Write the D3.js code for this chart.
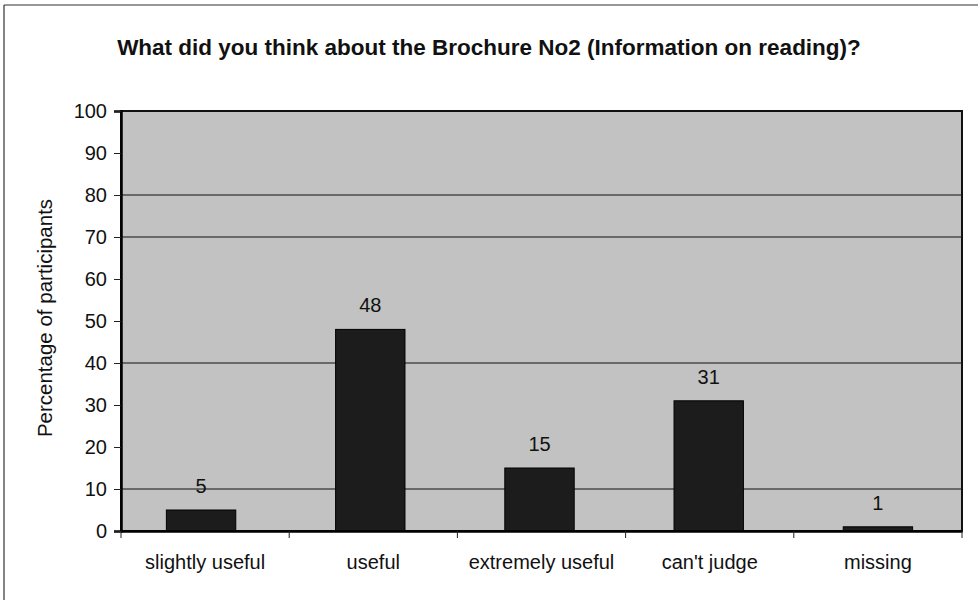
<!DOCTYPE html>
<html>
<head>
<meta charset="utf-8">
<script src="https://cdn.jsdelivr.net/npm/d3@7"></script>
<style>
html,body{margin:0;padding:0;background:#fff;}
svg{display:block;font-family:"Liberation Sans",Arial,sans-serif;}
</style>
</head>
<body>
<svg id="chart" width="978" height="600"></svg>
<script>
const title = "What did you think about the Brochure No2 (Information on reading)?";
const yTitle = "Percentage of participants";
const categories = ["slightly useful", "useful", "extremely useful", "can't judge", "missing"];
const values = [5, 48, 15, 31, 1];
const yTicks = [0, 10, 20, 30, 40, 50, 60, 70, 80, 90, 100];
const visibleGridlines = [10, 40, 70, 80];

const svg = d3.select("#chart");
const m = {left: 121, right: 16, top: 111, bottom: 69};
const W = 978, H = 600;
const pw = W - m.left - m.right, ph = H - m.top - m.bottom;
const FONT = "Liberation Sans, Arial, sans-serif";

// outer chart frame (partially visible)
svg.append("line").attr("x1", 4).attr("x2", 4).attr("y1", 5).attr("y2", 600).attr("stroke", "#333").attr("stroke-width", 1.2);
svg.append("line").attr("x1", 4).attr("x2", 978).attr("y1", 5).attr("y2", 5).attr("stroke", "#333").attr("stroke-width", 1.2);

svg.append("text").attr("x", 489).attr("y", 55).attr("text-anchor", "middle")
  .attr("font-size", 22.5).attr("font-weight", "bold").attr("fill", "#111").text(title);

const x = d3.scaleBand().domain(categories).range([0, pw]).paddingInner(0.59).paddingOuter(0.28);
const xb = d3.scaleBand().domain(categories).range([0, pw]);
const y = d3.scaleLinear().domain([0, 100]).range([ph, 0]);

const g = svg.append("g").attr("transform", `translate(${m.left},${m.top})`);

g.append("rect").attr("width", pw).attr("height", ph).attr("fill", "#c2c2c2");

g.selectAll("line.grid").data(visibleGridlines).enter().append("line")
  .attr("class", "grid").attr("x1", 0).attr("x2", pw)
  .attr("y1", d => y(d)).attr("y2", d => y(d)).attr("stroke", "#111").attr("stroke-width", 1);

g.selectAll("rect.bar").data(values).enter().append("rect")
  .attr("class", "bar")
  .attr("x", (d, i) => x(categories[i]) - 2)
  .attr("width", x.bandwidth())
  .attr("y", d => y(d))
  .attr("height", d => ph - y(d))
  .attr("fill", "#1c1c1c").attr("stroke", "#000").attr("stroke-width", 1);

g.selectAll("text.val").data(values).enter().append("text")
  .attr("class", "val")
  .attr("x", (d, i) => x(categories[i]) - 2 + x.bandwidth() / 2)
  .attr("y", d => y(d) - 17)
  .attr("text-anchor", "middle").attr("font-size", 20).attr("fill", "#111")
  .attr("font-family", FONT)
  .text(d => d);

// plot border
g.append("rect").attr("width", pw).attr("height", ph).attr("fill", "none").attr("stroke", "#111").attr("stroke-width", 2);

// y axis
const yAxis = g.append("g").call(d3.axisLeft(y).tickValues(yTicks).tickSize(7).tickPadding(7));
yAxis.select(".domain").attr("stroke", "#000").attr("stroke-width", 2.5);
yAxis.selectAll(".tick line").attr("stroke", "#222");
yAxis.selectAll(".tick text").attr("font-size", 20).attr("fill", "#111")
  .attr("font-family", FONT);

// x axis
const xAxis = g.append("g").attr("transform", `translate(0,${ph})`)
  .call(d3.axisBottom(xb).tickSize(0));
xAxis.select(".domain").attr("stroke", "#000").attr("stroke-width", 2.5);
xAxis.selectAll(".tick text").attr("font-size", 20).attr("fill", "#111")
  .attr("font-family", FONT).attr("y", 38).attr("dy", 0);
// category boundary ticks
const bounds = categories.map(c => xb(c)).concat([pw]);
xAxis.selectAll("line.bound").data(bounds).enter().append("line")
  .attr("class", "bound").attr("x1", d => d).attr("x2", d => d)
  .attr("y1", 0).attr("y2", 7).attr("stroke", "#222");

svg.append("text").attr("transform", `translate(52,318) rotate(-90)`)
  .attr("text-anchor", "middle").attr("font-size", 20.5).attr("fill", "#111")
  .attr("font-family", FONT).text(yTitle);
</script>
</body>
</html>
